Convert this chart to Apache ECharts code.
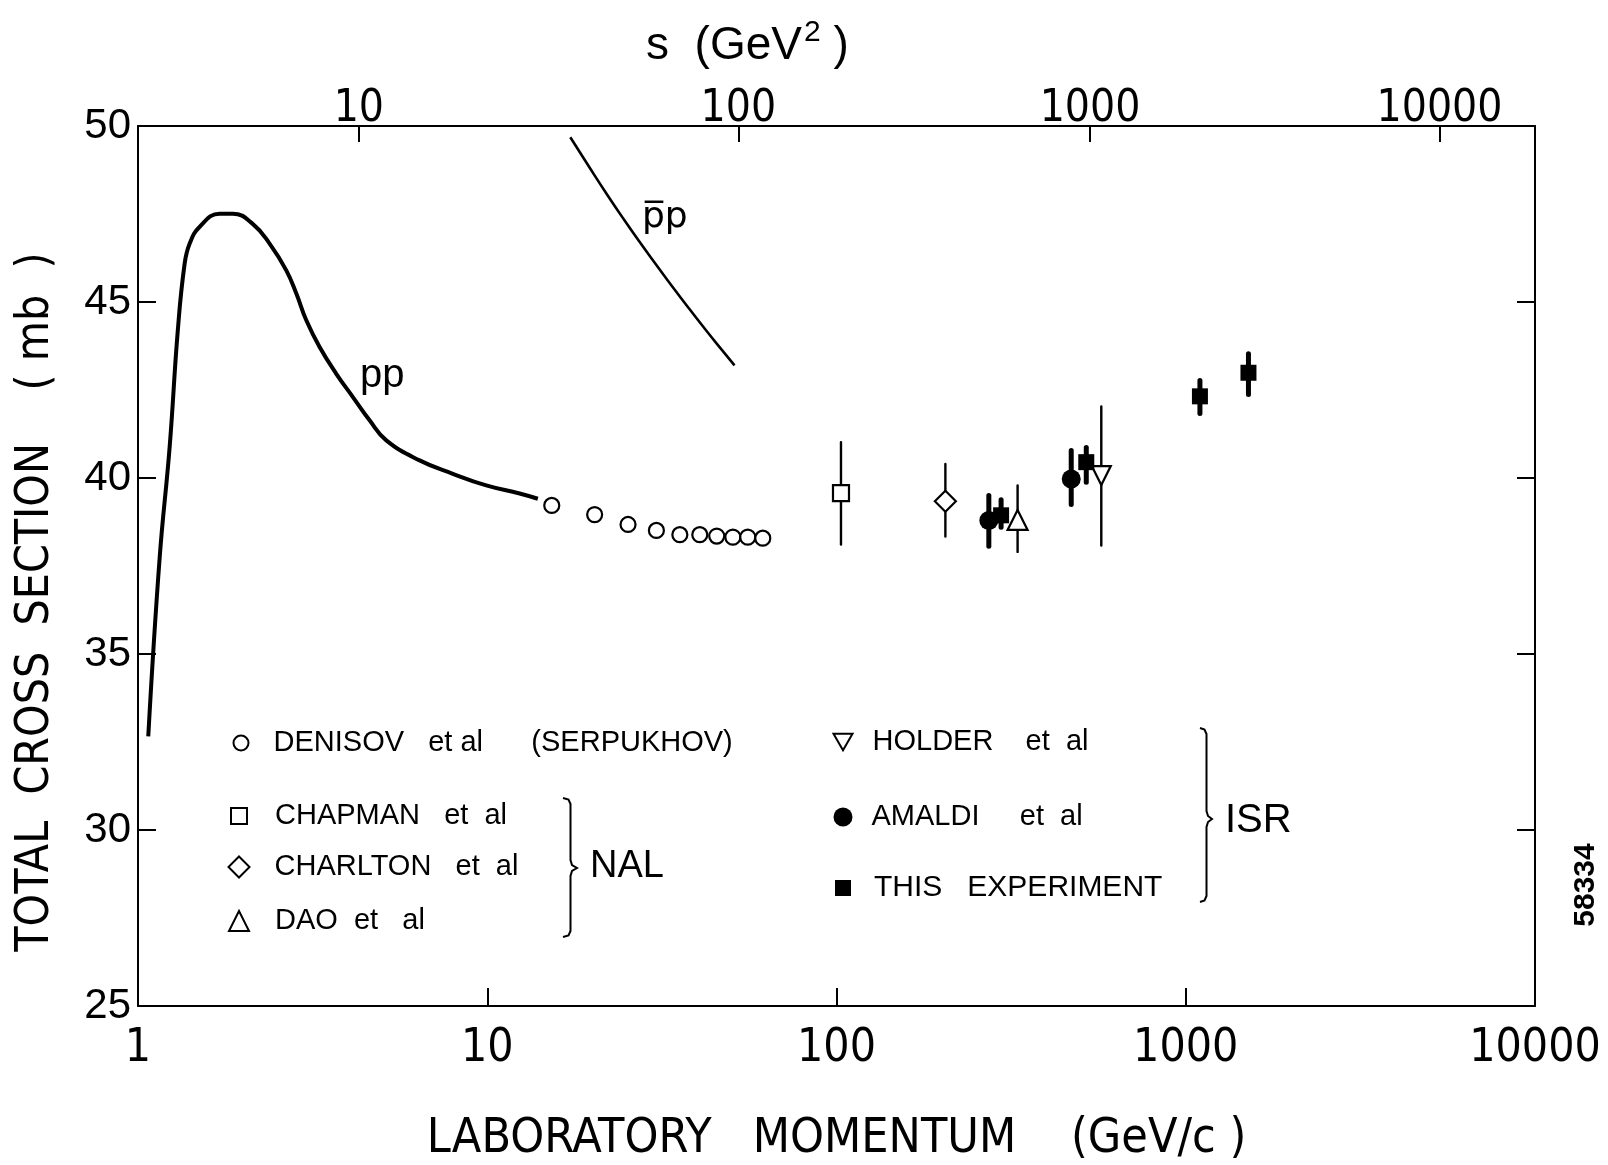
<!DOCTYPE html>
<html><head><meta charset="utf-8">
<script src="https://cdn.jsdelivr.net/npm/echarts@6/dist/echarts.min.js"></script>
<style>html,body{margin:0;padding:0;background:#fff}#c{width:1608px;height:1165px}</style>
</head><body><div id="c"></div>
<script>
// ---- data ----
const PP_P   = [1.07,1.153,1.232,1.30,1.36,1.406,1.50,1.713,1.869,2.13,2.381,2.658,2.840,3.033,3.311,3.696,4.124,4.603,5.139,6.401,7.970,9.934,12.38,13.96];
const PP_SIG = [32.66,37.71,40.88,44.19,46.09,46.66,47.13,47.51,47.51,47.22,46.66,45.90,45.24,44.48,43.72,42.96,42.30,41.64,41.07,40.50,40.12,39.79,39.56,39.41];
const PBARP_P   = [17.29,19.63,21.91,24.44,27.29,30.46,33.99,37.93,42.36,46.77,51.05];
const PBARP_SIG = [49.68,48.82,48.09,47.39,46.71,46.06,45.42,44.80,44.19,43.66,43.20];
const DENISOV_P   = [15.3,20.3,25.3,30.5,35.6,40.6,45.4,50.5,55.7,61.5];
const DENISOV_SIG = [39.22,38.96,38.68,38.51,38.39,38.39,38.35,38.32,38.32,38.29];
const CHAPMAN_P = [103], CHAPMAN_SIG = [39.57], CHAPMAN_LO = [38.11], CHAPMAN_HI = [41.02];
const CHARLTON_P = [205], CHARLTON_SIG = [39.34], CHARLTON_LO = [38.34], CHARLTON_HI = [40.40];
const DAO_P = [330], DAO_SIG = [38.81], DAO_LO = [37.90], DAO_HI = [39.79];
const HOLDER_P = [573], HOLDER_SIG = [40.07], HOLDER_LO = [38.08], HOLDER_HI = [42.03];
const AMALDI_P = [273,470], AMALDI_SIG = [38.79,39.97], AMALDI_LO = [38.06,39.25], AMALDI_HI = [39.50,40.78];
const THIS_P = [296,519,1098,1512], THIS_SIG = [38.94,40.45,42.32,42.99], THIS_LO = [38.60,39.88,41.83,42.37], THIS_HI = [39.38,40.87,42.77,43.53];
const X_TICKS = [1,10,100,1000,10000];
const S_TICKS = [10,100,1000,10000];

const NAMES = {
  den: 'DENISOV   et al      (SERPUKHOV)',
  chap: 'CHAPMAN   et  al',
  charl: 'CHARLTON   et  al',
  dao: 'DAO  et   al',
  hold: 'HOLDER    et  al',
  amal: 'AMALDI     et  al',
  thisx: 'THIS   EXPERIMENT'
};

// proton mass and conversion between lab momentum and s
const M = 0.938272;
const pFromS = s => { const E = (s - 2*M*M)/(2*M); return Math.sqrt(E*E - M*M); };
const sFromP = p => 2*M*M + 2*M*Math.sqrt(p*p + M*M);
const P_TOP = S_TICKS.map(pFromS);

const zip = (a,b) => a.map((v,i)=>[v,b[i]]);
const NARROW = "'Liberation Sans Narrow','DejaVu Sans Condensed','Liberation Sans',sans-serif";
const SANS = "'Liberation Sans',Arial,sans-serif";

function errSeries(xs, lo, hi, w) {
  return {
    type: 'custom', silent: true, z: 2, xAxisIndex: 0, yAxisIndex: 0,
    data: xs.map((x,i)=>[x, lo[i], hi[i]]),
    encode: {x: 0, y: [1,2]},
    renderItem: (params, api) => {
      const a = api.coord([api.value(0), api.value(1)]);
      const b = api.coord([api.value(0), api.value(2)]);
      return {type:'line', shape:{x1:a[0],y1:a[1],x2:b[0],y2:b[1]}, style:{stroke:'#000', lineWidth:w, lineCap:'round'}};
    }
  };
}
function scat(name, xs, ys, symbol, size, filled) {
  return {
    type: 'scatter', name, z: 4, symbol, symbolSize: size,
    data: zip(xs, ys),
    itemStyle: filled ? {color:'#000', borderColor:'#000', borderWidth:0, opacity:1}
                      : {color:'#fff', borderColor:'#000', borderWidth:2.2, opacity:1}
  };
}
const DOWN_TRI = 'path://M0,0L2,0L1,1.732Z';

function leg(name, cx, cy, size, padLeft, fs) {
  return {
    data: [name], orient: 'horizontal', selectedMode: false,
    left: cx - size/2, top: cy - 16, padding: 0,
    itemWidth: size, itemHeight: size, itemGap: 0,
    textStyle: {fontFamily: SANS, fontSize: fs || 29, color:'#000', lineHeight: 32, padding:[0,0,0,padLeft]}
  };
}
function brace(x0, x1, y0, y1, ym) {
  const xm = (x0 + x1) / 2 + 0.5;
  return [[x0,y0],[xm-2,y0+1.5],[xm,y0+6],[xm,ym-8],[xm+1.5,ym-3],[x1,ym],[xm+1.5,ym+3],[xm,ym+8],[xm,y1-6],[xm-2,y1-1.5],[x0,y1]];
}

const chart = echarts.init(document.getElementById('c'), null, {renderer:'canvas'});
chart.setOption({
  animation: false,
  backgroundColor: '#fff',
  grid: {left: 138, right: 73, top: 126, bottom: 159, containLabel: false, outerBoundsMode: 'none'},
  xAxis: [{
    type: 'log', logBase: 10, min: 1, max: 10000, position: 'bottom',
    name: 'LABORATORY   MOMENTUM    (GeV/c )', nameLocation: 'middle', nameGap: 110,
    nameTextStyle: {fontFamily: NARROW, fontSize: 48, color:'#000'},
    axisLine: {show:true, lineStyle:{color:'#000', width:2}},
    axisTick: {show:true, inside:true, length:18, lineStyle:{color:'#000', width:2}, customValues:[10,100,1000]},
    minorTick: {show:false},
    axisLabel: {customValues: X_TICKS, margin: 20, fontFamily: NARROW, fontSize: 46, color:'#000',
                showMinLabel:true, showMaxLabel:true, formatter: v => String(Math.round(v))},
    splitLine: {show:false}
  },{
    type: 'log', logBase: 10, min: 1, max: 10000, position: 'top',
    axisLine: {show:true, lineStyle:{color:'#000', width:2}},
    axisTick: {show:true, inside:true, length:16, lineStyle:{color:'#000', width:2}, customValues: P_TOP},
    minorTick: {show:false},
    axisLabel: {customValues: P_TOP, margin: -6, fontFamily: NARROW, fontSize: 44, color:'#000',
                formatter: v => String(Math.round(sFromP(v)))},
    splitLine: {show:false}
  }],
  yAxis: [{
    type: 'value', min: 25, max: 50, interval: 5, position: 'left',
    name: 'TOTAL  CROSS  SECTION    ( mb  )', nameLocation: 'middle', nameGap: 79, nameRotate: 90,
    nameTextStyle: {fontFamily: NARROW, fontSize: 46, color:'#000', padding:[0,72,0,0]},
    axisLine: {show:true, lineStyle:{color:'#000', width:2}},
    axisTick: {show:true, inside:true, length:18, lineStyle:{color:'#000', width:2}},
    axisLabel: {margin: 7, fontFamily: SANS, fontSize: 42, color:'#000'},
    splitLine: {show:false}
  },{
    type: 'value', min: 25, max: 50, interval: 5, position: 'right',
    axisLine: {show:true, lineStyle:{color:'#000', width:2}},
    axisTick: {show:true, inside:true, length:18, lineStyle:{color:'#000', width:2}},
    axisLabel: {show:false},
    splitLine: {show:false}
  }],
  legend: [
    leg(NAMES.den,   240, 743, 15, 20),
    leg(NAMES.chap,  238, 816, 16, 23),
    leg(NAMES.charl, 238, 867, 21, 20),
    leg(NAMES.dao,   238, 921, 20, 21),
    leg(NAMES.hold,  842, 742, 19, 15),
    leg(NAMES.amal,  843, 817, 19, 14),
    leg(NAMES.thisx, 843, 888, 16, 18, 30)
  ],
  series: [
    {type:'line', name:'pp', data: zip(PP_P, PP_SIG), showSymbol:false, smooth:0.45, z:3,
     lineStyle:{color:'#000', width:4}},
    {type:'line', name:'pbar p', data: zip(PBARP_P, PBARP_SIG), showSymbol:false, smooth:0.5, z:3,
     lineStyle:{color:'#000', width:2.6}},
    errSeries(CHAPMAN_P, CHAPMAN_LO, CHAPMAN_HI, 2.4),
    errSeries(CHARLTON_P, CHARLTON_LO, CHARLTON_HI, 2.4),
    errSeries(DAO_P, DAO_LO, DAO_HI, 2.4),
    errSeries(HOLDER_P, HOLDER_LO, HOLDER_HI, 2.4),
    errSeries(AMALDI_P, AMALDI_LO, AMALDI_HI, 5),
    errSeries(THIS_P, THIS_LO, THIS_HI, 5),
    scat(NAMES.den, DENISOV_P, DENISOV_SIG, 'circle', 15, false),
    scat(NAMES.chap, CHAPMAN_P, CHAPMAN_SIG, 'rect', 16, false),
    scat(NAMES.charl, CHARLTON_P, CHARLTON_SIG, 'diamond', 21, false),
    scat(NAMES.dao, DAO_P, DAO_SIG, 'triangle', 20, false),
    scat(NAMES.hold, HOLDER_P, HOLDER_SIG, DOWN_TRI, 19, false),
    scat(NAMES.amal, AMALDI_P, AMALDI_SIG, 'circle', 19, true),
    scat(NAMES.thisx, THIS_P, THIS_SIG, 'rect', 16, true)
  ],
  graphic: [
    {type:'text', x: 646, y: 46, style:{
      text:'{a|s  (GeV}{b|2}{a| )}', verticalAlign:'middle', align:'left',
      rich:{a:{fontFamily:SANS, fontSize:46, fill:'#000', lineHeight:56},
            b:{fontFamily:SANS, fontSize:30, fill:'#000', lineHeight:56, verticalAlign:'top', padding:[0,0,20,2]}}}},
    {type:'text', x: 360, y: 376, style:{text:'pp', fontFamily:SANS, fontSize:40, fill:'#000', verticalAlign:'middle', align:'left'}},
    {type:'text', x: 642, y: 218, style:{text:'p\u0305p', fontFamily:"'DejaVu Sans',sans-serif", fontSize:36, fill:'#000', verticalAlign:'middle', align:'left'}},
    {type:'polyline', shape:{points: brace(563, 577, 798, 937, 868)}, style:{stroke:'#000', lineWidth:2, fill:null}},
    {type:'text', x: 590, y: 867, style:{text:'NAL', fontFamily:SANS, fontSize:38, fill:'#000', verticalAlign:'middle', align:'left'}},
    {type:'polyline', shape:{points: brace(1200, 1212, 728, 902, 819)}, style:{stroke:'#000', lineWidth:2, fill:null}},
    {type:'text', x: 1225, y: 821, style:{text:'ISR', fontFamily:SANS, fontSize:40, fill:'#000', verticalAlign:'middle', align:'left'}},
    {type:'text', x: 1586, y: 885, rotation: Math.PI/2, style:{text:'58334', fontFamily:SANS, fontWeight:'bold', fontSize:30, fill:'#000', verticalAlign:'middle', align:'center'}}
  ]
});
</script>
</body></html>
